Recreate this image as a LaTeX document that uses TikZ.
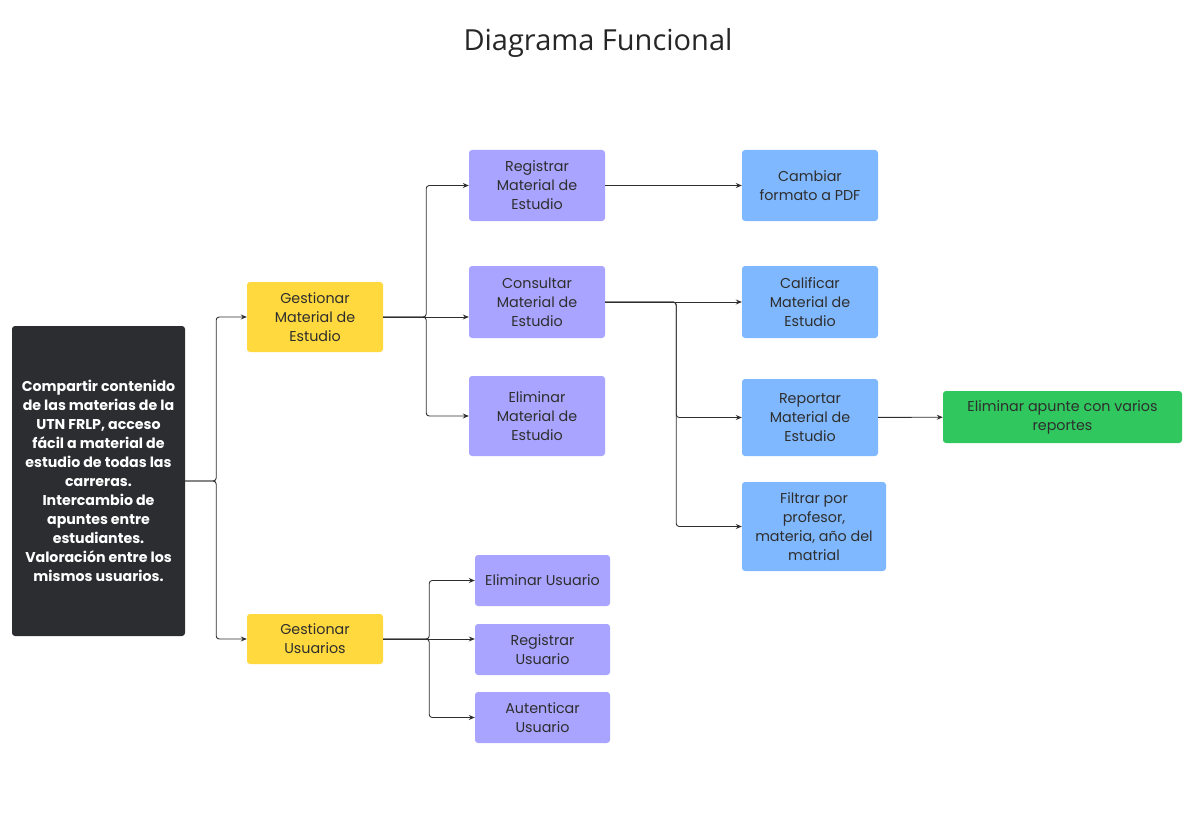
\documentclass[tikz,border=0pt]{standalone}
\usepackage{fontspec}
\setmainfont{Poppins}
\newfontfamily\titlefont{Open Sans}
\usetikzlibrary{arrows.meta}

\definecolor{ink}{HTML}{2E2E2E}
\definecolor{goalfill}{HTML}{2C2D31}
\definecolor{yellowfill}{HTML}{FFD93D}
\definecolor{purplefill}{HTML}{A9A4FF}
\definecolor{bluefill}{HTML}{80B8FF}
\definecolor{greenfill}{HTML}{30C75E}

\begin{document}
\begin{tikzpicture}[
		x=1pt, y=-1pt,
		every node/.style={rectangle, rounded corners=3pt, align=center, inner sep=0pt,
			text=ink, font=\fontsize{14.3}{19}\selectfont},
		goal/.style={fill=goalfill, text=white, font=\fontsize{14.2}{19}\selectfont\bfseries},
		area/.style={fill=yellowfill},
		task/.style={fill=purplefill},
		detail/.style={fill=bluefill},
		result/.style={fill=greenfill},
		link/.style={draw=ink, line width=0.9pt, rounded corners=3pt,
			-{Stealth[length=6pt, width=5pt]}}
	]
  \useasboundingbox (0,0) rectangle (1200,832);
  \node (title) [font=\titlefont\fontsize{29}{32}\selectfont, text=black!85] at (598, 43) {Diagrama Funcional};

  \node (obj) [goal, minimum width=173, minimum height=310] at (98.5, 481)
    {Compartir contenido\\de las materias de la\\UTN FRLP, acceso\\fácil a material de\\estudio de todas las\\carreras.\\Intercambio de\\apuntes entre\\estudiantes.\\Valoración entre los\\mismos usuarios.};

  \node (g_mat) [area, minimum width=136, minimum height=70] at (315, 317) {Gestionar\\Material de\\Estudio};
  \node (g_usr) [area, minimum width=136, minimum height=50] at (315, 639) {Gestionar\\Usuarios};

  \node (reg_mat) [task, minimum width=136, minimum height=71] at (537, 185.5) {Registrar\\Material de\\Estudio};
  \node (con_mat) [task, minimum width=136, minimum height=72] at (537, 302) {Consultar\\Material de\\Estudio};
  \node (del_mat) [task, minimum width=136, minimum height=80] at (537, 416) {Eliminar\\Material de\\Estudio};

  \node (pdf) [detail, minimum width=136, minimum height=71] at (810, 185.5) {Cambiar\\formato a PDF};
  \node (rate) [detail, minimum width=136, minimum height=72] at (810, 302) {Calificar\\Material de\\Estudio};
  \node (report) [detail, minimum width=136, minimum height=77] at (810, 417.5) {Reportar\\Material de\\Estudio};
  \node (filter) [detail, minimum width=144, minimum height=89] at (814, 526.5) {Filtrar por\\profesor,\\materia, año del\\matrial};
  \node (purge) [result, minimum width=239, minimum height=52] at (1062.5, 417) {Eliminar apunte con varios\\reportes};

  \node (del_usr) [task, minimum width=135, minimum height=51] at (542.5, 580.5) {Eliminar Usuario};
  \node (reg_usr) [task, minimum width=135, minimum height=51] at (542.5, 649.5) {Registrar\\Usuario};
  \node (auth) [task, minimum width=135, minimum height=51] at (542.5, 717.5) {Autenticar\\Usuario};

  % objetivo -> areas
  \draw [link] (obj.east) -- ++(31,0) |- (g_mat.west);
  \draw [link] (obj.east) -- ++(31,0) |- (g_usr.west);
  % material de estudio
  \draw [link] (g_mat.east) -- ++(43,0) |- (reg_mat.west);
  \draw [link] (g_mat.east) -- (g_mat.east -| con_mat.west);
  \draw [link] (g_mat.east) -- ++(43,0) |- (del_mat.west);
  \draw [link] (reg_mat) -- (pdf);
  \draw [link] (con_mat) -- (rate);
  \draw [link] (con_mat.east) -- ++(71,0) |- (report.west);
  \draw [link] (con_mat.east) -- ++(71,0) |- (filter.west);
  \draw [link] (report) -- (purge);
  % usuarios
  \draw [link] (g_usr.east) -- ++(46,0) |- (del_usr.west);
  \draw [link] (g_usr.east) -- (g_usr.east -| reg_usr.west);
  \draw [link] (g_usr.east) -- ++(46,0) |- (auth.west);
\end{tikzpicture}
\end{document}
